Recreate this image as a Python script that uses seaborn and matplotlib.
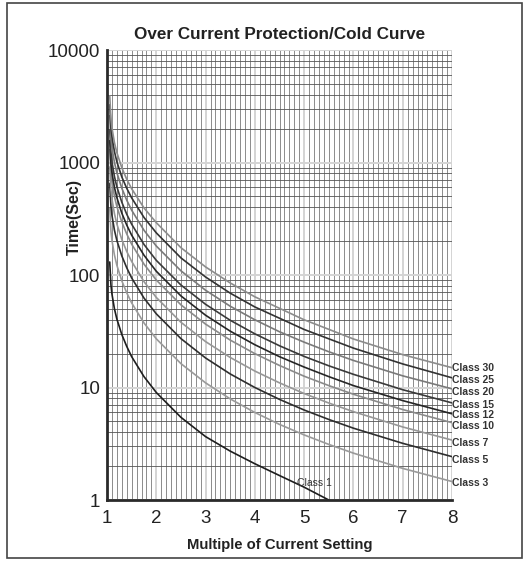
import matplotlib
matplotlib.use("Agg")
import matplotlib.pyplot as plt
import matplotlib.ticker as mticker
from matplotlib.patches import Rectangle
import pandas as pd
import seaborn as sns

# Multiple of current setting (x) and trip time in seconds per class
multiple = [1.055, 1.08, 1.1, 1.15, 1.2, 1.3, 1.4, 1.5, 1.75, 2, 2.5, 3, 3.5, 4, 4.5, 5, 5.5, 6, 7, 8]

class_1 = [130.5, 81.3, 67.8, 50.2, 40.6, 29.6, 23.2, 18.8, 12.5, 9.03, 5.43, 3.66, 2.72, 2.10, 1.65, 1.30, 1.0, 0.76, 0.50, 0.40]
class_3 = [391, 244, 203, 151, 122, 88.8, 69.5, 56.5, 37.5, 27.1, 16.3, 11.0, 7.92, 6.00, 4.70, 3.79, 3.12, 2.61, 1.91, 1.46]
class_5 = [652, 407, 339, 251, 203, 148, 116, 94.2, 62.4, 45.2, 27.2, 18.3, 13.2, 10.0, 7.84, 6.31, 5.20, 4.35, 3.19, 2.43]
class_7 = [913, 569, 474, 352, 284, 207, 162, 132, 87.4, 63.2, 38.0, 25.6, 18.5, 14.0, 11.0, 8.84, 7.28, 6.10, 4.46, 3.41]
class_10 = [1305, 813, 678, 502, 406, 296, 232, 188, 125, 90.3, 54.3, 36.6, 26.4, 20.0, 15.7, 12.6, 10.4, 8.71, 6.37, 4.87]
class_12 = [1566, 976, 813, 603, 488, 355, 278, 226, 150, 108, 65.2, 43.9, 31.7, 24.0, 18.8, 15.2, 12.5, 10.4, 7.65, 5.84]
class_15 = [1957, 1220, 1017, 753, 609, 444, 347, 283, 187, 135, 81.5, 54.9, 39.6, 30.0, 23.5, 18.9, 15.6, 13.1, 9.56, 7.30]
class_20 = [2610, 1626, 1356, 1005, 813, 592, 463, 377, 250, 181, 109, 73.2, 52.8, 40.0, 31.3, 25.3, 20.8, 17.4, 12.7, 9.73]
class_25 = [3262, 2033, 1695, 1256, 1016, 745, 590, 485, 325, 237, 142, 96.0, 69.0, 52.0, 41.3, 32.8, 27.1, 22.4, 16.2, 12.2]
class_30 = [3914, 2439, 2034, 1507, 1225, 900, 710, 585, 395, 292, 175, 118, 85.0, 64.0, 50.6, 40.0, 32.9, 27.0, 19.6, 15.0]

class_names = ["Class 1", "Class 3", "Class 5", "Class 7", "Class 10",
               "Class 12", "Class 15", "Class 20", "Class 25", "Class 30"]
class_times = [class_1, class_3, class_5, class_7, class_10,
               class_12, class_15, class_20, class_25, class_30]

x_ticks = [1, 2, 3, 4, 5, 6, 7, 8]
y_ticks = [1, 10, 100, 1000, 10000]

# build a long table for seaborn
rows = []
for name, times in zip(class_names, class_times):
    for m, t in zip(multiple, times):
        rows.append({"Multiple": m, "Time": t, "Class": name})
curves = pd.DataFrame(rows)

line_colors = {
    "Class 1": "#1e1e1e", "Class 3": "#9a9a9a", "Class 5": "#2e2e2e",
    "Class 7": "#979797", "Class 10": "#8a8a8a", "Class 12": "#262626",
    "Class 15": "#3a3a3a", "Class 20": "#7a7a7a", "Class 25": "#333333",
    "Class 30": "#8c8c8c",
}

sns.set_style("white")
plt.rcParams["font.family"] = ["Liberation Sans", "DejaVu Sans"]

fig = plt.figure(figsize=(5.29, 5.61), dpi=100)
ax = fig.add_axes([0.2023, 0.1087, 0.6522, 0.8021])

sns.lineplot(data=curves, x="Multiple", y="Time", hue="Class", palette=line_colors,
             linewidth=1.2, legend=False, ax=ax, zorder=3)

ax.set_yscale("log")
ax.set_xlim(1, 8)
ax.set_ylim(1, 10000)
ax.set_xticks(x_ticks)
ax.set_xticklabels([str(v) for v in x_ticks])
ax.set_yticks(y_ticks)
ax.set_yticklabels([str(v) for v in y_ticks])
ax.xaxis.set_minor_locator(mticker.MultipleLocator(0.1))
ax.yaxis.set_minor_locator(mticker.LogLocator(base=10, subs=range(2, 10)))
ax.yaxis.set_minor_formatter(mticker.NullFormatter())

# dense graph-paper grid: dark minor lines, pale major lines
ax.xaxis.grid(True, which="minor", color="#7a7a7a", linewidth=0.6, zorder=0)
ax.yaxis.grid(True, which="minor", color="#555555", linewidth=0.6, zorder=0)
ax.grid(which="major", color="#d4d4d4", linewidth=1.4, zorder=1)
ax.set_axisbelow(True)

ax.tick_params(which="both", length=0)
ax.tick_params(axis="y", labelsize=13.5, pad=5, colors="#222222")
ax.tick_params(axis="x", labelsize=13.5, pad=7, colors="#222222")

for side in ["top", "right"]:
    ax.spines[side].set_visible(False)
for side in ["left", "bottom"]:
    ax.spines[side].set_color("#2a2a2a")
    ax.spines[side].set_linewidth(2)
    ax.spines[side].set_zorder(4)

ax.set_title("Over Current Protection/Cold Curve", fontsize=12.3, fontweight="bold",
             color="#222222", pad=8)
ax.set_xlabel("Multiple of Current Setting", fontsize=10.7, fontweight="bold", color="#222222")
ax.set_ylabel("Time(Sec)", fontsize=11.5, fontweight="bold", color="#222222")
ax.xaxis.set_label_coords(0.5, -0.085)
ax.yaxis.set_label_coords(-0.072, 0.63)

# class labels next to the curve ends
label_names = ["Class 30", "Class 25", "Class 20", "Class 15", "Class 12",
               "Class 10", "Class 7", "Class 5", "Class 3"]
label_y = [14.9, 11.7, 9.12, 6.99, 5.70, 4.55, 3.21, 2.27, 1.42]
for name, yv in zip(label_names, label_y):
    ax.text(8.0, yv, name, fontsize=7.5, fontweight="bold", color="#333333",
            ha="left", va="center", clip_on=False)
ax.text(4.85, 1.42, "Class 1", fontsize=7.5, color="#333333", ha="left", va="center",
        zorder=5)

# outer frame around the whole picture
fig.patches.append(Rectangle((0.0132, 0.0053), 0.9735, 0.9893, transform=fig.transFigure,
                             fill=False, edgecolor="#444444", linewidth=1.2))

fig.savefig("out.png", dpi=100)
